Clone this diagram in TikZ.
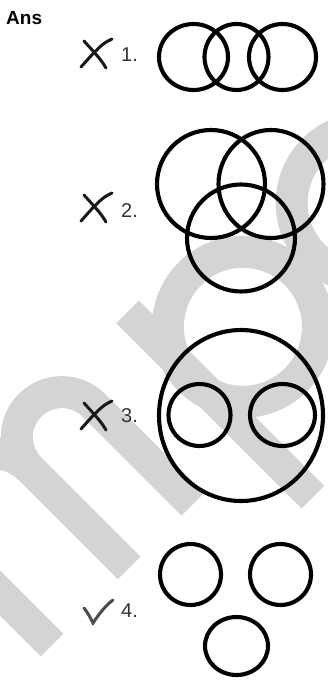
\documentclass[tikz,border=0pt]{standalone}
\usepackage{fontspec}
\setmainfont{Liberation Sans}
\usepackage{xcolor}
\definecolor{wmgray}{gray}{0.83}
\definecolor{inkgray}{gray}{0.3}
\usetikzlibrary{shapes.geometric,positioning}

\begin{document}
\begin{tikzpicture}[
  x=1pt,y=-1pt,
  ring/.style={ellipse,draw=black,line width=4.1pt,inner sep=0pt},
  num/.style={anchor=base west,inner sep=0pt,font=\fontsize{20}{20}\selectfont,text=black!80},
  crossmark/.style={line width=3pt,line cap=round,color=black!90},
  tickmark/.style={line width=3pt,line cap=round,color=inkgray},
  wmark/.style={line width=32pt,color=wmgray},
]
  \useasboundingbox (0,0) rectangle (328,682);

  % watermark
  \begin{scope}[shift={(52,645)},x={(0.7071pt,0.7071pt)},y={(-0.7071pt,0.7071pt)}]
    \draw[wmark] (0,0) -- (0,140) arc[start angle=180,end angle=0,radius=54.5] -- (109,0);
    \draw[wmark] (109,140) arc[start angle=180,end angle=0,radius=45] -- (199,0);
    \draw[wmark] (289,-80) -- (289,182);
    \draw[wmark] (360,90) circle[radius=75];
    \draw[wmark] (535,90) circle[radius=75];
  \end{scope}

  \node[anchor=base west,inner sep=0pt,font=\bfseries\fontsize{19}{19}\selectfont] (ans) at (6,25) {Ans};

  % option 1
  \node[ring,minimum width=69,minimum height=66] (a1) at (193.5,57) {};
  \node[ring,minimum width=64,minimum height=66] (a2) at (236.5,57) {};
  \node[ring,minimum width=67,minimum height=66] (a3) at (282.5,57) {};
  % option 2
  \node[ring,minimum width=108,minimum height=108] (b1) at (211,184) {};
  \node[ring,minimum width=105,minimum height=108] (b2) at (271,184) {};
  \node[ring,minimum width=108,minimum height=107] (b3) at (241,238) {};
  % option 3
  \node[ring,minimum width=164,minimum height=171] (c0) at (241,415.5) {};
  \node[ring,minimum width=62,minimum height=62] (c1) at (199.5,415) {};
  \node[ring,minimum width=65,minimum height=62] (c2) at (282.5,415) {};
  % option 4
  \node[ring,minimum width=61,minimum height=61] (d1) at (190.5,574.5) {};
  \node[ring,minimum width=61,minimum height=61] (d2) at (280.5,574.5) {};
  \node[ring,minimum width=63,minimum height=58] (d3) at (236.5,646) {};

  % numbers
  \node[num] (n1) at (121,62) {1.};
  \node[num] (n2) at (121,217) {2.};
  \node[num] (n3) at (121,422) {3.};
  \node[num] (n4) at (121,617) {4.};

  % marks
  \foreach \cy in {53,207,415} {
    \begin{scope}[shift={(96,\cy)}]
      \draw[crossmark] (-15,14) .. controls (-6,4) and (4,-8) .. (12,-12) -- (16,-14);
      \draw[crossmark] (-12,-12) .. controls (-4,-3) and (5,6) .. (10,15);
    \end{scope}
  }
  \draw[tickmark] (84,608) .. controls (88,613) and (91,619) .. (93,623)
    .. controls (99,614) and (106,605) .. (113,600);
\end{tikzpicture}
\end{document}
